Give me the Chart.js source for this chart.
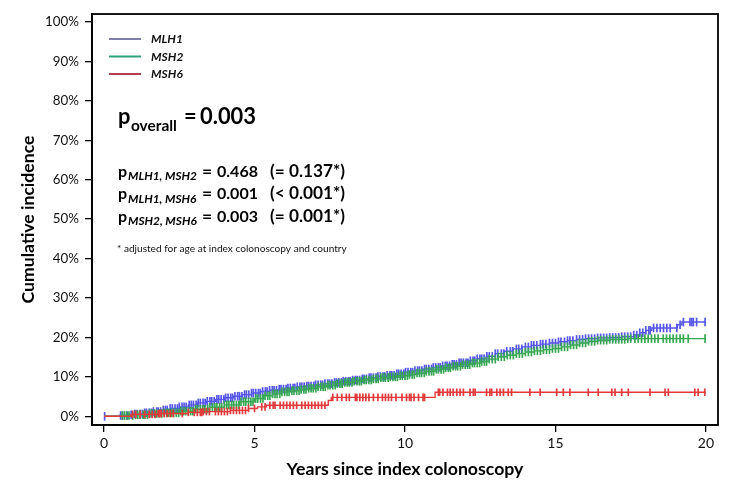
<!DOCTYPE html>
<html><head><meta charset="utf-8">
<script src="https://cdn.jsdelivr.net/npm/chart.js@4.4.1/dist/chart.umd.min.js"></script>
<style>html,body{margin:0;padding:0;background:#fff}#wrap{width:729px;height:483px}</style>
</head><body><div id="wrap"><canvas id="c" width="729" height="483"></canvas></div>
<script>
// ---------------- data ----------------
const seriesNames = ['MLH1', 'MSH2', 'MSH6'];
const xTickValues = [0, 5, 10, 15, 20];
const yTickValues = [0, 10, 20, 30, 40, 50, 60, 70, 80, 90, 100];

// step curves: event times (years) and cumulative incidence (%)
const mlh1Times = [0, 0.5, 0.8, 1.0, 1.3, 1.6, 1.9, 2.2, 2.5, 2.8, 3.1, 3.4, 3.7, 4.0, 4.3, 4.6, 4.9, 5.2, 5.5, 5.8, 6.1, 6.4, 6.7, 7.0, 7.3, 7.6, 7.9, 8.2, 8.5, 8.8, 9.1, 9.4, 9.7, 10.0, 10.3, 10.6, 10.9, 11.2, 11.5, 11.8, 12.1, 12.4, 12.7, 13.0, 13.3, 13.6, 13.9, 14.2, 14.5, 14.8, 15.1, 15.4, 15.7, 16.0, 16.4, 16.8, 17.2, 17.6, 17.8, 18.0, 18.2, 19.05, 19.2, 20.0];
const mlh1Inc   = [0, 0.2, 0.4, 0.6, 0.9, 1.2, 1.6, 2.0, 2.4, 2.9, 3.4, 3.8, 4.3, 4.7, 5.1, 5.5, 5.9, 6.3, 6.6, 6.9, 7.2, 7.5, 7.7, 8.0, 8.3, 8.6, 8.9, 9.2, 9.5, 9.8, 10.1, 10.4, 10.8, 11.2, 11.6, 12.0, 12.4, 12.8, 13.2, 13.6, 14.1, 14.6, 15.2, 15.9, 16.5, 17.1, 17.6, 18.0, 18.3, 18.6, 18.9, 19.2, 19.5, 19.7, 19.9, 20.0, 20.2, 20.6, 21.2, 21.8, 22.4, 23.2, 23.9, 23.9];

const msh2Times = [0, 0.6, 1.0, 1.5, 2.0, 2.5, 3.0, 3.5, 4.0, 4.5, 5.0, 5.3, 5.6, 5.9, 6.2, 6.5, 6.8, 7.1, 7.4, 7.7, 8.0, 8.3, 8.6, 8.9, 9.2, 9.5, 9.8, 10.1, 10.4, 10.7, 11.0, 11.3, 11.6, 11.9, 12.2, 12.5, 12.8, 13.1, 13.4, 13.7, 14.0, 14.3, 14.6, 14.9, 15.2, 15.5, 15.8, 16.1, 16.4, 16.8, 17.4, 20.0];
const msh2Inc   = [0, 0.2, 0.4, 0.7, 0.9, 1.3, 1.8, 2.3, 2.9, 3.7, 4.5, 5.2, 5.7, 6.2, 6.5, 6.8, 7.1, 7.5, 7.9, 8.3, 8.6, 8.9, 9.2, 9.5, 9.8, 10.0, 10.3, 10.6, 11.0, 11.4, 11.9, 12.3, 12.7, 13.1, 13.5, 13.9, 14.5, 15.1, 15.5, 15.9, 16.3, 16.6, 16.9, 17.2, 17.6, 18.1, 18.6, 19.0, 19.3, 19.5, 19.7, 19.7];

const msh6Times = [0, 0.9, 1.8, 2.8, 3.3, 4.2, 4.8, 5.1, 5.4, 7.45, 7.55, 11.0, 20.0];
const msh6Inc   = [0, 0.5, 0.7, 1.0, 1.2, 1.5, 2.0, 2.4, 2.8, 4.0, 4.8, 6.1, 6.1];

// censoring times (years)
const mlh1Censor = [0.02, 0.55, 0.62, 0.78, 0.9, 1.02, 1.1, 1.2, 1.27, 1.35, 1.41, 1.5, 1.57, 1.64, 1.75, 1.8, 1.88, 1.97, 2.04, 2.1, 2.2, 2.27, 2.36, 2.44, 2.5, 2.59, 2.66, 2.73, 2.83, 2.9, 2.97, 3.06, 3.13, 3.2, 3.29, 3.36, 3.43, 3.52, 3.58, 3.66, 3.75, 3.81, 3.89, 3.98, 4.04, 4.12, 4.21, 4.27, 4.35, 4.44, 4.5, 4.58, 4.67, 4.73, 4.81, 4.9, 4.96, 5.04, 5.13, 5.19, 5.27, 5.36, 5.42, 5.5, 5.59, 5.65, 5.73, 5.82, 5.88, 5.96, 6.05, 6.11, 6.19, 6.28, 6.34, 6.42, 6.51, 6.57, 6.65, 6.74, 6.8, 6.88, 6.97, 7.03, 7.11, 7.2, 7.26, 7.34, 7.43, 7.49, 7.57, 7.66, 7.72, 7.8, 7.89, 7.95, 8.03, 8.12, 8.18, 8.26, 8.35, 8.41, 8.49, 8.58, 8.64, 8.72, 8.81, 8.87, 8.95, 9.04, 9.1, 9.18, 9.27, 9.33, 9.41, 9.5, 9.56, 9.64, 9.73, 9.79, 9.87, 9.96, 10.02, 10.1, 10.19, 10.25, 10.33, 10.42, 10.48, 10.56, 10.65, 10.71, 10.79, 10.88, 10.94, 11.02, 11.11, 11.17, 11.25, 11.34, 11.4, 11.48, 11.57, 11.63, 11.71, 11.8, 11.86, 11.94, 12.03, 12.09, 12.17, 12.26, 12.32, 12.4, 12.49, 12.55, 12.63, 12.72, 12.8, 12.9, 13.0, 13.08, 13.2, 13.28, 13.38, 13.5, 13.58, 13.7, 13.78, 13.88, 14.0, 14.1, 14.2, 14.28, 14.38, 14.5, 14.58, 14.68, 14.8, 14.9, 15.0, 15.1, 15.18, 15.3, 15.4, 15.48, 15.58, 15.7, 15.8, 15.9, 16.0, 16.1, 16.2, 16.3, 16.4, 16.5, 16.6, 16.7, 16.8, 16.9, 17.0, 17.1, 17.2, 17.3, 17.4, 17.5, 17.6, 17.7, 17.8, 17.9, 18.0, 18.1, 18.15, 18.26, 18.37, 18.48, 18.59, 18.7, 18.81, 19.03, 19.14, 19.25, 19.47, 19.53, 19.58, 19.69, 19.97];
const msh2Censor = [0.6, 0.68, 0.75, 0.83, 0.95, 1.05, 1.12, 1.2, 1.3, 1.36, 1.44, 1.52, 1.6, 1.68, 1.75, 1.84, 1.92, 2.0, 2.08, 2.15, 2.24, 2.31, 2.4, 2.48, 2.55, 2.64, 2.71, 2.8, 2.88, 2.95, 3.04, 3.11, 3.2, 3.28, 3.35, 3.44, 3.51, 3.6, 3.68, 3.75, 3.84, 3.91, 4.0, 4.08, 4.15, 4.24, 4.31, 4.4, 4.48, 4.55, 4.64, 4.71, 4.8, 4.88, 4.95, 5.04, 5.11, 5.2, 5.28, 5.35, 5.44, 5.51, 5.6, 5.68, 5.75, 5.84, 5.91, 6.0, 6.08, 6.15, 6.24, 6.31, 6.4, 6.48, 6.55, 6.64, 6.71, 6.8, 6.88, 6.95, 7.04, 7.11, 7.2, 7.28, 7.35, 7.44, 7.51, 7.6, 7.68, 7.75, 7.84, 7.91, 8.0, 8.08, 8.15, 8.24, 8.31, 8.4, 8.48, 8.55, 8.64, 8.71, 8.8, 8.88, 8.95, 9.04, 9.11, 9.2, 9.28, 9.35, 9.44, 9.51, 9.6, 9.68, 9.75, 9.84, 9.91, 10.0, 10.08, 10.15, 10.24, 10.31, 10.4, 10.48, 10.55, 10.64, 10.71, 10.8, 10.88, 10.95, 11.04, 11.11, 11.2, 11.28, 11.35, 11.44, 11.51, 11.6, 11.68, 11.75, 11.84, 11.91, 12.0, 12.08, 12.15, 12.24, 12.31, 12.4, 12.48, 12.55, 12.64, 12.71, 12.8, 12.9, 13.0, 13.1, 13.2, 13.3, 13.4, 13.5, 13.6, 13.7, 13.8, 13.9, 14.0, 14.1, 14.2, 14.3, 14.4, 14.5, 14.6, 14.7, 14.8, 14.9, 15.0, 15.1, 15.2, 15.3, 15.4, 15.5, 15.6, 15.7, 15.8, 15.9, 16.0, 16.1, 16.2, 16.3, 16.4, 16.5, 16.6, 16.7, 16.8, 16.9, 17.0, 17.1, 17.2, 17.3, 17.4, 17.5, 17.64, 17.75, 17.86, 17.97, 18.08, 18.19, 18.3, 18.41, 18.58, 18.69, 18.8, 18.91, 19.02, 19.14, 19.25, 19.41, 19.97];
const msh6Censor = [0.95, 1.05, 1.2, 1.35, 1.5, 1.6, 1.7, 1.8, 1.85, 1.9, 2.0, 2.1, 2.2, 2.3, 2.6, 2.8, 3.0, 3.1, 3.2, 3.25, 3.3, 3.4, 3.5, 3.7, 3.8, 3.9, 4.0, 4.1, 4.2, 4.3, 4.4, 4.5, 4.6, 4.7, 4.8, 5.0, 5.24, 5.35, 5.51, 5.62, 5.68, 5.85, 5.96, 6.07, 6.18, 6.29, 6.4, 6.57, 6.68, 6.79, 6.9, 7.01, 7.12, 7.23, 7.34, 7.6, 7.75, 7.9, 8.05, 8.15, 8.35, 8.4, 8.5, 8.6, 8.7, 8.8, 8.95, 9.1, 9.25, 9.35, 9.45, 9.55, 9.7, 9.9, 10.05, 10.15, 10.2, 10.3, 10.45, 10.6, 10.65, 11.11, 11.15, 11.26, 11.41, 11.5, 11.6, 11.72, 11.83, 11.94, 12.16, 12.27, 12.33, 12.71, 12.82, 12.88, 13.05, 13.16, 13.27, 13.43, 13.54, 14.15, 14.49, 15.04, 15.26, 15.48, 16.09, 16.42, 16.87, 16.98, 17.2, 17.42, 18.14, 18.64, 18.75, 19.63, 19.74, 19.96];

// ---------------- helpers ----------------
function toPoints(times, inc) { return times.map((t, i) => ({x: t, y: inc[i]})); }
function valueAt(times, inc, t) {
  let v = inc[0];
  for (let i = 0; i < times.length; i++) { if (times[i] <= t) v = inc[i]; else break; }
  return v;
}
function censorPoints(cens, times, inc) { return cens.map(t => ({x: t, y: valueAt(times, inc, t)})); }

const FONT = 'Lato, "Open Sans", sans-serif';
const mctx = document.createElement('canvas').getContext('2d');
function fit(text, weight, style, target) {
  mctx.font = `${style} ${weight} 100px ${FONT}`;
  return 100 * target / mctx.measureText(text).width;
}

const colors = {MLH1: '#5656ea', MSH2: '#37a852', MSH6: '#e23a3a'};
const legendColors = {MLH1: '#7e7ea8', MSH2: '#33a07c', MSH6: '#b2404c'};

function lineDs(label, times, inc, color) {
  return {type: 'line', label, data: toPoints(times, inc), borderColor: color, borderWidth: 1.4,
    stepped: true, pointRadius: 0, pointHoverRadius: 0, fill: false, tension: 0};
}
function censDs(label, cens, times, inc, color, r) {
  return {type: 'scatter', label: label + ' censored', data: censorPoints(cens, times, inc),
    pointStyle: 'line', pointRotation: 90, pointRadius: r, pointBorderWidth: 1.7,
    pointBorderColor: color, pointBackgroundColor: color, showLine: false};
}

const datasets = [
  censDs('MSH6', msh6Censor, msh6Times, msh6Inc, colors.MSH6, 3.8),
  lineDs('MSH6', msh6Times, msh6Inc, colors.MSH6),
  censDs('MSH2', msh2Censor, msh2Times, msh2Inc, colors.MSH2, 4.3),
  lineDs('MSH2', msh2Times, msh2Inc, colors.MSH2),
  censDs('MLH1', mlh1Censor, mlh1Times, mlh1Inc, colors.MLH1, 4.3),
  lineDs('MLH1', mlh1Times, mlh1Inc, colors.MLH1),
];

const xTitle = 'Years since index colonoscopy';
const yTitle = 'Cumulative incidence';
const xTitleSize = fit(xTitle, 'bold', 'normal', 237);
const yTitleSize = fit(yTitle, 'bold', 'normal', 168);
const yTickSize = fit('100%', 'normal', 'normal', 34);

// frame + annotations
const framePlugin = {
  id: 'frame',
  afterDraw(chart) {
    const {ctx, chartArea: a} = chart;
    ctx.save();
    ctx.strokeStyle = '#000';
    ctx.lineWidth = 1.8;
    ctx.strokeRect(a.left, a.top, a.right - a.left, a.bottom - a.top);
    ctx.restore();
  }
};

function txt(ctx, s, x, y, size, weight, style) {
  ctx.font = `${style || 'normal'} ${weight || 'normal'} ${size}px ${FONT}`;
  ctx.fillText(s, x, y);
}

const annoPlugin = {
  id: 'anno',
  afterDraw(chart) {
    const ctx = chart.ctx;
    ctx.save();
    // legend
    const legY = [39, 56.5, 74];
    ctx.textBaseline = 'middle';
    const legSize = fit('MLH1', 'bold', 'italic', 32);
    seriesNames.forEach((n, i) => {
      ctx.strokeStyle = legendColors[n];
      ctx.lineWidth = 2;
      ctx.beginPath(); ctx.moveTo(109, legY[i]); ctx.lineTo(141, legY[i]); ctx.stroke();
      ctx.fillStyle = '#111';
      txt(ctx, n, 151, legY[i] + 0.5, legSize, 'bold', 'italic');
    });
    ctx.textBaseline = 'alphabetic';
    ctx.fillStyle = '#000';
    // p overall
    const bigSize = fit('0.003', 'bold', 'normal', 56);
    txt(ctx, 'p', 118, 124, bigSize, 'bold');
    txt(ctx, 'overall', 131, 131, fit('overall', 'bold', 'normal', 46), 'bold');
    txt(ctx, '=', 184, 124, bigSize, 'bold');
    txt(ctx, '0.003', 200, 124, bigSize, 'bold');
    // pairwise
    const midSize = fit('0.468', 'bold', 'normal', 41);
    const subSize = fit('MLH1, MSH2', 'bold', 'italic', 69);
    const rows = [
      ['MLH1, MSH2', '0.468', '(= 0.137*)', 176.7],
      ['MLH1, MSH6', '0.001', '(< 0.001*)', 199.2],
      ['MSH2, MSH6', '0.003', '(= 0.001*)', 221.7],
    ];
    const parSize = fit('(= 0.137*)', 'bold', 'normal', 75);
    rows.forEach(r => {
      const y = r[3];
      txt(ctx, 'p', 118, y, midSize, 'bold');
      txt(ctx, r[0], 128, y + 3.5, subSize, 'bold', 'italic');
      txt(ctx, '=', 202, y, midSize * 1.1, 'bold');
      txt(ctx, r[1], 217, y, midSize, 'bold');
      txt(ctx, r[2], 270, y, parSize, 'bold');
    });
    // footnote
    const fn = '* adjusted for age at index colonoscopy and country';
    ctx.fillStyle = '#111';
    txt(ctx, fn, 117, 252, fit(fn, 'normal', 'normal', 230), 'normal');
    ctx.restore();
  }
};

new Chart(document.getElementById('c'), {
  type: 'scatter',
  data: {datasets},
  options: {
    responsive: false,
    animation: false,
    devicePixelRatio: 1,
    layout: {padding: {top: 7, right: 11, left: 0, bottom: 0}},
    plugins: {legend: {display: false}, tooltip: {enabled: false}},
    events: [],
    scales: {
      x: {
        type: 'linear', min: -0.4, max: 20.4,
        afterBuildTicks: s => { s.ticks = xTickValues.map(v => ({value: v})); },
        afterFit: s => { s.height = 58; },
        grid: {display: true, drawOnChartArea: false, drawTicks: true, tickLength: 7, color: '#000', lineWidth: 1.3},
        border: {display: true, color: '#000', width: 1.8},
        ticks: {color: '#111', font: {family: FONT, size: 14}, padding: 3, maxRotation: 0, autoSkip: false},
        title: {display: true, text: xTitle, color: '#000', font: {family: FONT, size: xTitleSize, weight: 'bold'}, padding: {top: 0, bottom: 3}}
      },
      y: {
        type: 'linear', min: -2.2, max: 102,
        afterBuildTicks: s => { s.ticks = yTickValues.map(v => ({value: v})); },
        afterFit: s => { s.width = 92; },
        grid: {display: true, drawOnChartArea: false, drawTicks: true, tickLength: 7, color: '#000', lineWidth: 1.3},
        border: {display: true, color: '#000', width: 1.8},
        ticks: {color: '#111', font: {family: FONT, size: yTickSize}, padding: 6, autoSkip: false, callback: v => v + '%'},
        title: {display: true, text: yTitle, color: '#000', font: {family: FONT, size: yTitleSize, weight: 'bold'}, padding: {top: 18, bottom: 0}}
      }
    }
  },
  plugins: [framePlugin, annoPlugin]
});
</script>
</body></html>
